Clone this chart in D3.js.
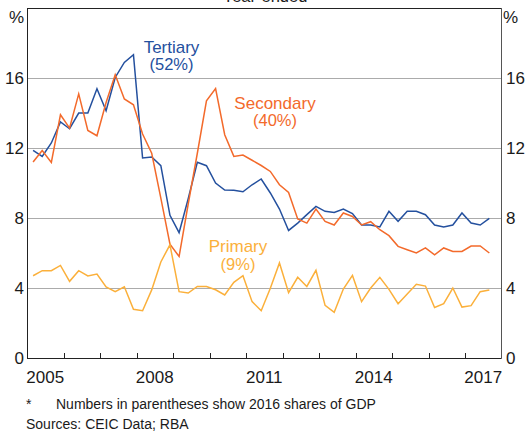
<!DOCTYPE html>
<html>
<head>
<meta charset="utf-8">
<script src="https://cdn.jsdelivr.net/npm/d3@7"></script>
<style>
  html, body { margin: 0; padding: 0; background: #fff; }
  svg { display: block; }
  text { font-family: "Liberation Sans", Arial, sans-serif; }
</style>
</head>
<body>
<svg id="chart" width="525" height="431"></svg>
<script>
// Quarterly data, 2005 Q1 to 2017 Q3 (year-ended growth, %)
const startYear = 2005;
const tertiary = [11.86,11.52,12.29,13.49,13.1,14.0,14.0,15.39,14.13,16.03,16.89,17.33,11.43,11.49,10.99,
  8.15,7.16,9.1,11.18,10.99,10.0,9.6,9.58,9.5,9.9,10.23,9.43,8.51,7.29,7.71,8.19,8.66,8.38,8.32,8.51,
  8.25,7.6,7.6,7.49,8.38,7.81,8.38,8.38,8.19,7.6,7.49,7.6,8.29,7.71,7.6,7.98];
const secondary = [11.2,11.86,11.18,13.9,13.14,15.09,13.0,12.7,14.6,16.19,14.8,14.47,12.8,11.7,
  9.14,6.5,5.8,8.8,11.7,14.7,15.4,12.76,11.52,11.6,11.3,11.0,10.66,9.9,9.46,7.94,7.71,8.51,7.81,7.6,8.29,
  8.09,7.6,7.79,7.33,6.99,6.38,6.19,6.0,6.29,5.9,6.29,6.09,6.09,6.4,6.4,6.0];
const primary = [4.70,4.99,4.99,5.29,4.38,4.99,4.69,4.80,4.06,3.79,4.07,2.78,2.70,3.89,5.49,6.47,
  3.79,3.71,4.09,4.09,3.90,3.60,4.32,4.70,3.22,2.70,3.98,5.43,3.73,4.61,4.09,5.01,3.01,2.61,3.94,
  4.72,3.22,4.00,4.61,3.92,3.10,3.66,4.21,4.11,2.89,3.10,4.00,2.91,2.99,3.79,3.89];
const yTicks = [0, 4, 8, 12, 16];
const yearLabels = [2005, 2008, 2011, 2014, 2017];
const seriesNames = ["Tertiary", "Secondary", "Primary"];
const seriesShares = ["(52%)", "(40%)", "(9%)"];
const colors = ["#24509e", "#f36a2b", "#fbb03b"];

const svg = d3.select("#chart");
const L = 27, R = 501.5, T = 8, B = 358;

const x = d3.scaleLinear().domain([2005, 2018]).range([L, R]);
const y = d3.scaleLinear().domain([0, 20]).range([B, T]);

const xOf = i => x(startYear + i / 4 + 2 / 12);

// grid lines
svg.append("g").selectAll("line")
  .data(yTicks.filter(d => d > 0))
  .join("line")
  .attr("x1", L).attr("x2", R)
  .attr("y1", d => Math.round(y(d)) + 0.5).attr("y2", d => Math.round(y(d)) + 0.5)
  .attr("stroke", "#ababab").attr("stroke-width", 1);

// frame
svg.append("line").attr("x1", L + 0.5).attr("x2", L + 0.5).attr("y1", T).attr("y2", B + 0.5).attr("stroke", "#222");
svg.append("line").attr("x1", L).attr("x2", R).attr("y1", T + 0.5).attr("y2", T + 0.5).attr("stroke", "#222");
svg.append("line").attr("x1", R).attr("x2", R).attr("y1", T).attr("y2", B + 0.5).attr("stroke", "#555");
svg.append("line").attr("x1", L).attr("x2", R).attr("y1", B + 0.5).attr("y2", B + 0.5).attr("stroke", "#222");

// year ticks (inside, from bottom)
const yearTicks = d3.range(2006, 2018);
svg.append("g").selectAll("line")
  .data(yearTicks)
  .join("line")
  .attr("x1", d => Math.round(x(d)) + 0.5).attr("x2", d => Math.round(x(d)) + 0.5)
  .attr("y1", B).attr("y2", B - 5)
  .attr("stroke", "#222");

// y tick labels left and right
svg.append("g").selectAll("text")
  .data(yTicks).join("text")
  .attr("x", 24).attr("y", d => y(d)).attr("dy", "0.36em")
  .attr("text-anchor", "end").attr("font-size", 17).attr("fill", "#1a1a1a")
  .text(d => d);
svg.append("g").selectAll("text")
  .data(yTicks).join("text")
  .attr("x", 506).attr("y", d => y(d)).attr("dy", "0.36em")
  .attr("text-anchor", "start").attr("font-size", 17).attr("fill", "#1a1a1a")
  .text(d => d);
svg.append("text").attr("x", 24).attr("y", 23).attr("text-anchor", "end").attr("font-size", 17).attr("fill", "#1a1a1a").text("%");
svg.append("text").attr("x", 503).attr("y", 23).attr("text-anchor", "start").attr("font-size", 17).attr("fill", "#1a1a1a").text("%");

// year labels (mid-year)
svg.append("g").selectAll("text")
  .data(yearLabels).join("text")
  .attr("x", d => x(d + 0.5)).attr("y", 383)
  .attr("text-anchor", "middle").attr("font-size", 17).attr("fill", "#1a1a1a")
  .text(d => d);

// title (partly clipped at top)
svg.append("text").attr("x", 265).attr("y", 2).attr("text-anchor", "middle")
  .attr("font-size", 16.5).attr("fill", "#1a1a1a").text("Year-ended");

// lines
const line = d3.line().x((d, i) => xOf(i)).y(d => y(d));
[tertiary, secondary, primary].forEach((s, k) => {
  svg.append("path").datum(s)
    .attr("d", line).attr("fill", "none")
    .attr("stroke", colors[k]).attr("stroke-width", 1.5)
    .attr("stroke-linejoin", "miter");
});

// series labels
const labelPos = [[171.5, 53, 70], [275, 109, 126], [238, 252, 270]];
labelPos.forEach((p, k) => {
  svg.append("text").attr("x", p[0]).attr("y", p[1]).attr("text-anchor", "middle")
    .attr("font-size", 17).attr("fill", colors[k]).text(seriesNames[k]);
  svg.append("text").attr("x", p[0]).attr("y", p[2]).attr("text-anchor", "middle")
    .attr("font-size", 16.5).attr("fill", colors[k]).text(seriesShares[k]);
});

// footnotes
svg.append("text").attr("x", 26).attr("y", 409).attr("font-size", 14).attr("fill", "#1a1a1a").text("*");
svg.append("text").attr("x", 56).attr("y", 409).attr("font-size", 14).attr("fill", "#1a1a1a").text("Numbers in parentheses show 2016 shares of GDP");
svg.append("text").attr("x", 26).attr("y", 429).attr("font-size", 14).attr("fill", "#1a1a1a").text("Sources: CEIC Data; RBA");
</script>
</body>
</html>
